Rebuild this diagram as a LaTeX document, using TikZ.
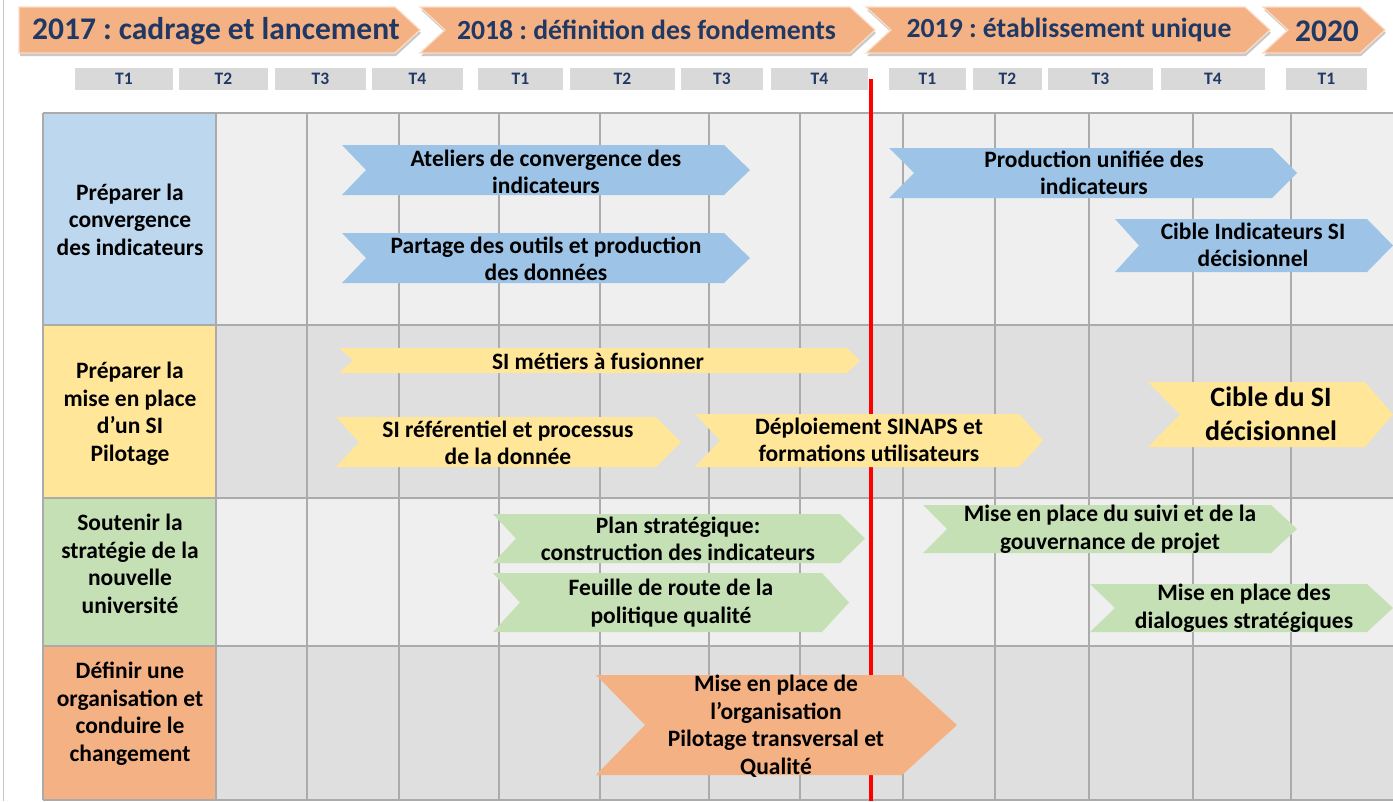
\documentclass[tikz,border=0pt]{standalone}
\usepackage{fontspec}
\setmainfont{Carlito}
\usetikzlibrary{shadows}
\definecolor{hdr}{HTML}{F4B183}
\definecolor{navy}{HTML}{1F3864}
\definecolor{tcell}{HTML}{D9D9D9}
\definecolor{bgA}{HTML}{EFEFEF}
\definecolor{bgB}{HTML}{DFDFDF}
\definecolor{gridc}{HTML}{ABABAB}
\definecolor{lblue}{HTML}{BDD7EE}
\definecolor{ablue}{HTML}{9DC3E6}
\definecolor{lyel}{HTML}{FFE699}
\definecolor{lgreen}{HTML}{C5E0B4}
\definecolor{lorange}{HTML}{F4B183}
\frenchspacing
\newcommand\chev[7]{\path[#7] (#1,#5) -- (#3,#5) -- (#4,{(#5+#6)/2}) -- (#3,#6) -- (#1,#6) -- (#2,{(#5+#6)/2}) -- cycle;}
\newcommand\tcellnode[4]{\node[tlab, minimum width={#3pt-#2pt}] (#1) at ({(#2+#3)/2},79) {#4};}
\begin{document}
\begin{tikzpicture}[x=1pt,y=-1pt,
  hdrbox/.style={fill=hdr, draw=hdr!45!white, line width=1.2pt, drop shadow={shadow xshift=1pt, shadow yshift=-3pt, opacity=0.35, fill=black!60}},
  hdrbig/.style={text=navy, inner sep=0, font=\bfseries\fontsize{31.5}{36}\selectfont},
  hdrmid/.style={text=navy, inner sep=0, font=\bfseries\fontsize{27.7}{32}\selectfont},
  tlab/.style={fill=tcell, text=navy, inner sep=0, minimum height=22pt, font=\bfseries\fontsize{17.5}{19}\selectfont},
  body/.style={align=center, inner sep=0, text=black, font=\bfseries\fontsize{23.5}{27.5}\selectfont},
  bigbody/.style={align=center, inner sep=0, text=black, font=\bfseries\fontsize{28}{34}\selectfont},
  gridline/.style={draw=gridc, line width=1.5pt},
  rowline/.style={draw=gridc, line width=2.5pt},
  redline/.style={draw=red, line width=4.5pt},
  fb/.style={fill=ablue}, fy/.style={fill=lyel}, fg/.style={fill=lgreen}, fo/.style={fill=lorange}
]
\useasboundingbox (0,0) rectangle (1393,801);
\fill[white] (0,0) rectangle (1393,801);
\draw[draw=gray!45, line width=1pt] (3.5,0) -- (3.5,801);

% header chevrons
\chev{19}{19}{395}{420}{7}{53}{hdrbox}
\chev{420}{445}{850}{875}{7}{53}{hdrbox}
\chev{866}{891}{1245}{1270}{7}{53}{hdrbox}
\chev{1263}{1288}{1360}{1385}{7}{53}{hdrbox}
\node[hdrbig] (y17) at (216,31) {2017 : cadrage et lancement};
\node[hdrmid] (y18) at (646.5,30) {2018 : définition des fondements};
\node[hdrmid] (y19) at (1069,30) {2019 : établissement unique};
\node[hdrbig] (y20) at (1327,31) {2020};

% quarters
\tcellnode{a1}{75}{173}{T1}
\tcellnode{a2}{179}{268}{T2}
\tcellnode{a3}{275}{366}{T3}
\tcellnode{a4}{372}{463}{T4}
\tcellnode{b1}{478}{563}{T1}
\tcellnode{b2}{570}{675}{T2}
\tcellnode{b3}{681}{763}{T3}
\tcellnode{b4}{771}{868}{T4}
\tcellnode{c1}{889}{966}{T1}
\tcellnode{c2}{973}{1042}{T2}
\tcellnode{c3}{1048}{1153}{T3}
\tcellnode{c4}{1161}{1265}{T4}
\tcellnode{d1}{1286}{1367}{T1}

% rows
\fill[bgA] (216,113) rectangle (1393,325);
\fill[bgB] (216,325) rectangle (1393,498);
\fill[bgA] (216,498) rectangle (1393,646);
\fill[bgB] (216,646) rectangle (1393,800);
\foreach \x in {307,399,499,600,709,800,903,995,1089,1193,1291}
  \draw[gridline] (\x,113) -- (\x,800);
\fill[lblue] (43,113) rectangle (216,325);
\fill[lyel] (43,325) rectangle (216,498);
\fill[lgreen] (43,498) rectangle (216,646);
\fill[lorange] (43,646) rectangle (216,800);
\draw[gridline] (43,113) -- (1393,113);
\draw[gridline] (43,800) -- (1393,800);
\foreach \y in {325,498,646}
  \draw[rowline] (43,\y) -- (1393,\y);
\draw[gridline] (43,113) -- (43,800);
\draw[gridline] (216,113) -- (216,800);

% today line
\coordinate (rtop) at (871,79);
\coordinate (rbot) at (871,801);
\draw[redline] (rtop) -- (rbot);

% row labels
\node[body] (r1) at (130,219.5) {Préparer la\\convergence\\des indicateurs};
\node[body] (r2) at (130,413.5) {Préparer la\\mise en place\\d’un SI\\Pilotage};
\node[body] (r3) at (130,564) {Soutenir la\\stratégie de la\\nouvelle\\université};
\node[body] (r4) at (130,713.5) {Définir une\\organisation et\\conduire le\\changement};

% task arrows
\chev{342}{366}{724}{750}{145}{195}{fb}
\chev{342}{366}{724}{750}{233}{283}{fb}
\chev{889}{914}{1272}{1297}{148}{198}{fb}
\chev{1115}{1139}{1367}{1393}{219}{272}{fb}
\chev{339}{353}{847}{860}{348}{373}{fy}
\chev{336}{359}{656}{681}{417}{467}{fy}
\chev{695}{720}{1019}{1043}{414}{467}{fy}
\chev{1148}{1180}{1365}{1393}{382}{447}{fy}
\chev{493}{516}{840}{865}{514}{563}{fg}
\chev{493}{520}{822}{849}{573}{632}{fg}
\chev{923}{947}{1271}{1297}{505}{553}{fg}
\chev{1090}{1115}{1367}{1393}{584}{632}{fg}
\chev{596}{645}{902}{957}{675}{775}{fo}

\node[body] (t1) at (546,172) {Ateliers de convergence des\\indicateurs};
\node[body] (t2) at (546,259) {Partage des outils et production\\des données};
\node[body] (t3) at (1094,173) {Production unifiée des\\indicateurs};
\node[body] (t4) at (1253,245) {Cible Indicateurs SI\\décisionnel};
\node[body] (t5) at (598,361) {SI métiers à fusionner};
\node[body] (t6) at (508,443) {SI référentiel et processus\\de la donnée};
\node[body] (t7) at (869,440) {Déploiement SINAPS et\\formations utilisateurs};
\node[bigbody] (t8) at (1271,414) {Cible du SI\\décisionnel};
\node[body] (t9) at (678,539) {Plan stratégique:\\construction des indicateurs};
\node[body] (t10) at (671,603) {Feuille de route de la\\politique qualité};
\node[body] (t11) at (1110,529) {Mise en place du suivi et de la\\gouvernance de projet};
\node[body] (t12) at (1244,608) {Mise en place des\\dialogues stratégiques};
\node[body] (t13) at (776,726) {Mise en place de\\l’organisation\\Pilotage transversal et\\Qualité};
\end{tikzpicture}
\end{document}
